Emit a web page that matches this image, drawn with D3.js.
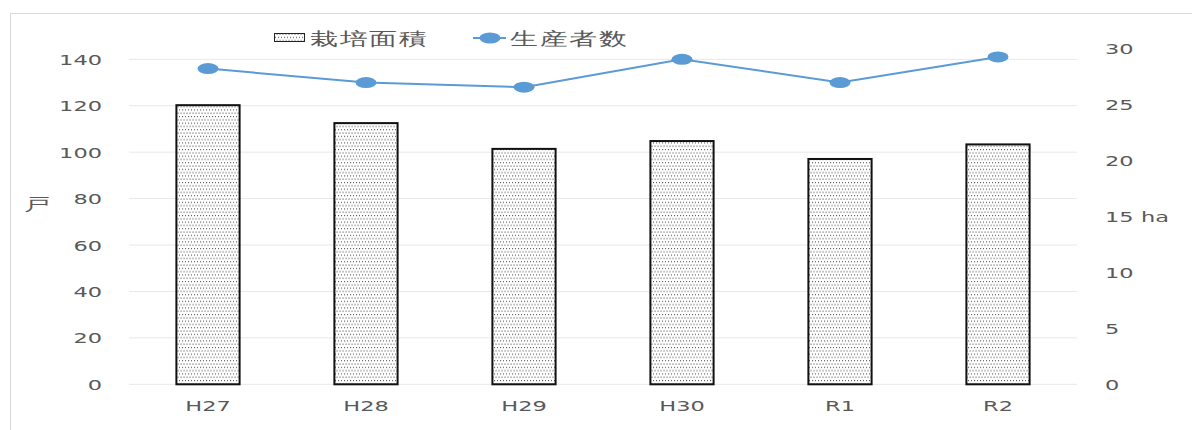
<!DOCTYPE html>
<html>
<head>
<meta charset="utf-8">
<script src="https://cdn.jsdelivr.net/npm/d3@7"></script>
<style>
  body { margin: 0; background: #fff; }
  text { font-family: "DejaVu Sans", sans-serif; fill: #595959; }
</style>
</head>
<body>
<div id="chart"></div>
<script>
// data
const categories = ["H27", "H28", "H29", "H30", "R1", "R2"];
const areaHa = [24.9, 23.3, 21.0, 21.7, 20.1, 21.4];        // 栽培面積 (ha, right axis)
const producers = [136, 130, 128, 140, 130, 141];           // 生産者数 (戸, left axis)
const leftTicks = [0, 20, 40, 60, 80, 100, 120, 140];
const rightTicks = [0, 5, 10, 15, 20, 25, 30];
const barName = "栽培面積";
const lineName = "生産者数";

const W = 1192, H = 430;
const plot = {left: 129, right: 1077, top: 59.3, bottom: 384.3};
const sx = 1.55; // the picture is stretched sideways

const svg = d3.select("#chart").append("svg")
    .attr("width", W)
    .attr("height", H);

// dotted fill for the bars
const pat = svg.append("defs").append("pattern")
    .attr("id", "dots")
    .attr("patternUnits", "userSpaceOnUse")
    .attr("width", 6)
    .attr("height", 6.6);
pat.append("rect").attr("width", 6).attr("height", 6.6).attr("fill", "#fff");
[[0.5, 0.5], [3.5, 0.5], [2, 3.8], [5, 3.8]].forEach(p => {
    pat.append("rect")
        .attr("x", p[0]).attr("y", p[1])
        .attr("width", 1.1).attr("height", 1.1)
        .attr("fill", "#555");
});

// frame
svg.append("rect")
    .attr("x", 10.5).attr("y", 13.5)
    .attr("width", 1200).attr("height", 450)
    .attr("fill", "none")
    .attr("stroke", "#d9d9d9");

const x = d3.scaleBand()
    .domain(categories)
    .range([plot.left, plot.right])
    .paddingInner(0.6)
    .paddingOuter(0.3);

const yLeft = d3.scaleLinear().domain([0, 140]).range([plot.bottom, plot.top]);
const yRight = d3.scaleLinear().domain([0, 30]).range([plot.bottom, 48]);

// gridlines
svg.append("g").selectAll("line")
    .data(leftTicks)
    .join("line")
    .attr("x1", plot.left).attr("x2", plot.right)
    .attr("y1", d => yLeft(d)).attr("y2", d => yLeft(d))
    .attr("stroke", "#e8e8e8")
    .attr("stroke-width", 1);

function wideText(g, tx, ty, str, size, anchor) {
    return g.append("text")
        .attr("transform", "translate(" + tx + "," + ty + ") scale(" + sx + ",1)")
        .attr("text-anchor", anchor)
        .style("font-size", size + "px")
        .text(str);
}

// left axis labels
const gl = svg.append("g");
leftTicks.forEach(t => wideText(gl, 102, yLeft(t) + 5.5, t, 14.5, "end"));
wideText(gl, 37, 210, "戸", 17, "middle");

// right axis labels
const gr = svg.append("g");
rightTicks.forEach(t => wideText(gr, 1105, yRight(t) + 5.5, t, 14.5, "start"));
wideText(gr, 1141, yRight(15) + 5.5, "ha", 14.5, "start");

// category labels
const gx = svg.append("g");
categories.forEach(c => wideText(gx, x(c) + x.bandwidth() / 2, 411, c, 14.5, "middle"));

// bars
svg.append("g").selectAll("rect")
    .data(areaHa)
    .join("rect")
    .attr("x", (d, i) => x(categories[i]))
    .attr("y", d => yRight(d))
    .attr("width", x.bandwidth())
    .attr("height", d => yRight(0) - yRight(d))
    .attr("fill", "url(#dots)")
    .attr("stroke", "#111")
    .attr("stroke-width", 2);

// line
const line = d3.line()
    .x((d, i) => x(categories[i]) + x.bandwidth() / 2)
    .y(d => yLeft(d));

svg.append("path")
    .datum(producers)
    .attr("fill", "none")
    .attr("stroke", "#5b9bd5")
    .attr("stroke-width", 2)
    .attr("d", line);

svg.append("g").selectAll("ellipse")
    .data(producers)
    .join("ellipse")
    .attr("cx", (d, i) => x(categories[i]) + x.bandwidth() / 2)
    .attr("cy", d => yLeft(d))
    .attr("rx", 10.5)
    .attr("ry", 5.5)
    .attr("fill", "#5b9bd5");

// legend
const lg = svg.append("g");
lg.append("rect")
    .attr("x", 274.5).attr("y", 33.5)
    .attr("width", 30).attr("height", 8)
    .attr("fill", "url(#dots)")
    .attr("stroke", "#222");
wideText(lg, 310, 45, barName, 17.5, "start").attr("letter-spacing", 1.5);
lg.append("line")
    .attr("x1", 473).attr("x2", 506)
    .attr("y1", 38).attr("y2", 38)
    .attr("stroke", "#5b9bd5").attr("stroke-width", 2);
lg.append("ellipse")
    .attr("cx", 490).attr("cy", 38)
    .attr("rx", 10.5).attr("ry", 5.5)
    .attr("fill", "#5b9bd5");
wideText(lg, 510, 45, lineName, 17.5, "start").attr("letter-spacing", 1.5);
</script>
</body>
</html>
